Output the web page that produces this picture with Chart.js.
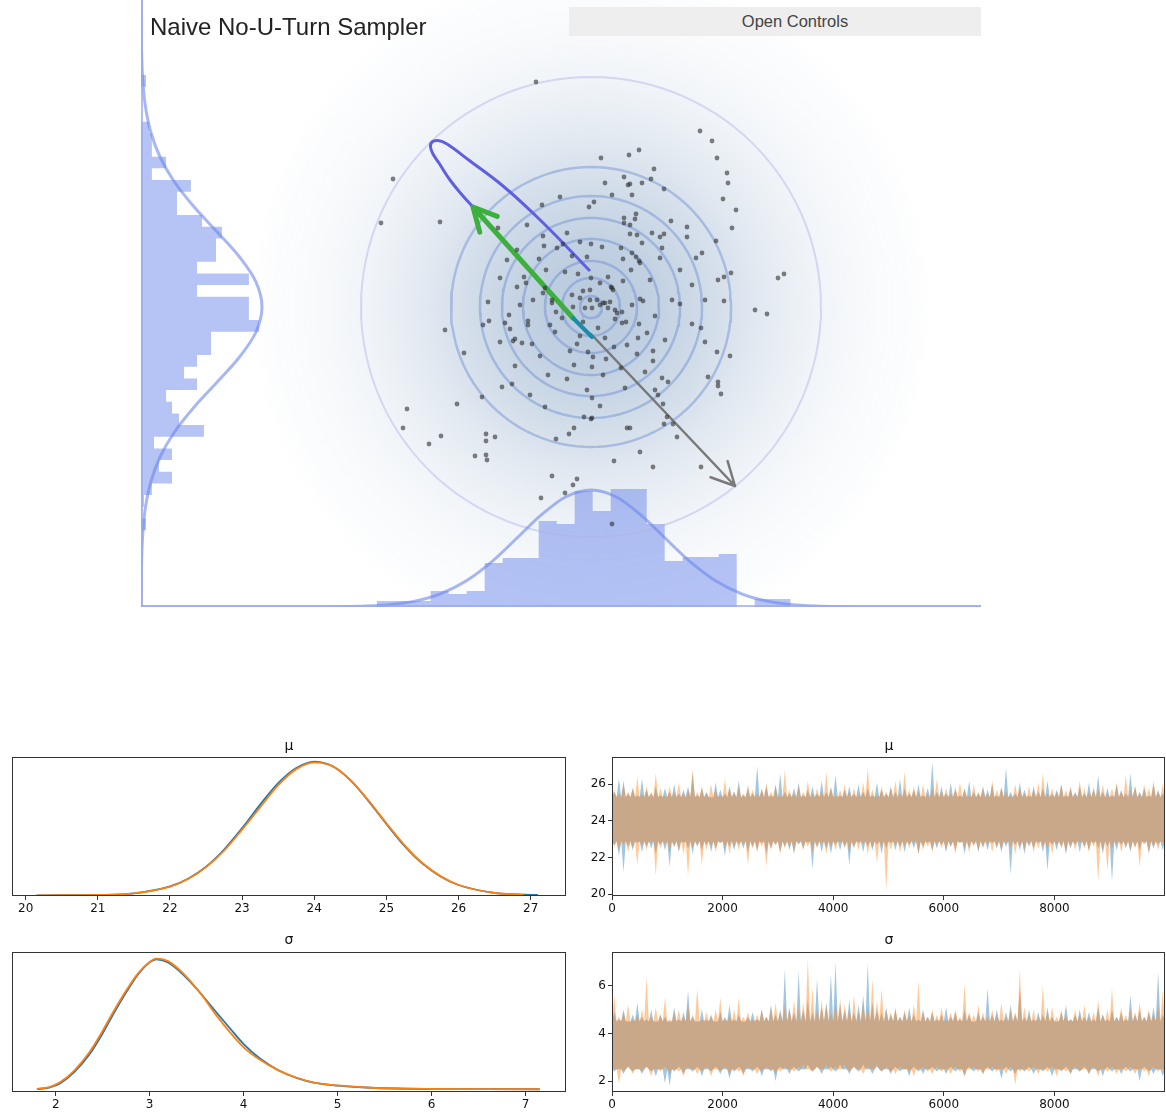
<!DOCTYPE html>
<html>
<head>
<meta charset="utf-8">
<script src="https://cdn.jsdelivr.net/npm/chart.js@4/dist/chart.umd.min.js"></script>
<style>
  html, body { margin: 0; padding: 0; background: #fff; overflow: hidden; width: 1166px; height: 1116px; }
  #stage { position: relative; width: 1166px; height: 1116px; }
  canvas { position: absolute; }
  #title { position: absolute; left: 150px; top: 15px; font-family: "Liberation Sans", Arial, sans-serif; font-size: 24px; line-height: 24px; color: #222; white-space: nowrap; }
  #controls { position: absolute; left: 569px; top: 7px; width: 372px; padding-left: 40px; height: 29px; background: #eeeeee; font-family: "Liberation Sans", Arial, sans-serif; font-size: 16.5px; line-height: 29px; text-align: center; color: #444; }
  .lbl { position: absolute; width: 100px; text-align: center; font-family: "DejaVu Sans", sans-serif; font-size: 14px; line-height: 16px; color: #111; }
</style>
</head>
<body>
<div id="stage">
  <canvas id="nuts" width="840" height="607" style="left:141px;top:0px"></canvas>
  <div id="title">Naive No-U-Turn Sampler</div>
  <div id="controls">Open Controls</div>

  <canvas id="kdeMu" width="580" height="200" style="left:0px;top:730px"></canvas>
  <canvas id="traceMu" width="586" height="200" style="left:580px;top:730px"></canvas>
  <canvas id="kdeSigma" width="580" height="201" style="left:0px;top:925px"></canvas>
  <canvas id="traceSigma" width="586" height="201" style="left:580px;top:925px"></canvas>
  <div class="lbl" style="left:239px;top:737px">μ</div>
  <div class="lbl" style="left:839px;top:737px">μ</div>
  <div class="lbl" style="left:239px;top:931px">σ</div>
  <div class="lbl" style="left:839px;top:931px">σ</div>
</div>

<script>
// ---------- sampler panel data ----------
const samplePoints = [
  [-0.55,2.25],[-1.98,1.28],[-2.10,0.84],[-1.51,0.85],[-0.31,1.10],[-0.49,1.02],[-0.02,1.00],[0.03,1.05],
  [-0.64,0.82],[-0.24,0.74],[-0.48,0.71],[-0.47,0.61],[-0.28,0.63],[-0.34,0.59],[-0.11,0.65],[0.00,0.63],
  [-0.52,0.48],[-0.04,0.50],[-0.45,0.37],[-0.26,0.35],[-0.13,0.33],[-0.67,0.30],[-0.74,0.20],[-0.65,0.24],
  [0.00,0.29],[-0.01,0.17],[-0.08,0.16],[-0.19,0.12],[-1.03,0.05],[-0.48,0.14],[-0.39,0.07],[-0.01,0.07],
  [-0.93,0.79],
  [1.09,1.76],[1.21,1.66],[1.26,1.49],[1.36,1.34],[1.37,1.24],[1.32,1.08],[1.45,0.97],[1.41,0.79],[1.25,0.66],
  [0.10,1.49],[0.38,1.52],[0.48,1.57],[0.63,1.38],[0.33,1.30],[0.37,1.22],[0.39,1.23],[0.14,1.24],[0.51,1.24],
  [0.60,1.28],[0.73,1.18],[0.21,1.12],[0.41,1.12],[0.45,0.93],[0.33,0.89],[0.33,0.84],[0.39,0.82],[0.44,0.88],
  [0.80,0.86],[0.96,0.80],[0.96,0.70],[0.61,0.74],[0.69,0.70],[0.73,0.73],[0.39,0.73],[0.46,0.72],[0.51,0.64],
  [0.30,0.59],[0.71,0.59],[0.41,0.54],[0.45,0.50],[0.48,0.46],[0.49,0.44],[0.32,0.48],[0.69,0.49],[1.05,0.49],
  [1.11,0.54],[0.40,0.37],[0.32,0.26],[0.09,0.24],[0.20,0.20],[0.22,0.17],[0.49,0.08],[0.52,0.06],[0.89,0.03],
  [1.27,0.27],[1.33,0.30],[1.40,0.34],[1.33,0.06],[1.87,0.29],[1.93,0.33],[1.64,-0.03],[1.76,-0.07],[0.06,0.07],
  [0.12,0.04],
  [0.64,-0.09],[1.01,-0.17],[1.10,-0.21],[1.14,-0.35],[1.26,-0.45],[1.39,-0.49],[0.74,-0.33],[0.56,-0.26],
  [0.48,-0.17],[0.47,-0.31],[0.24,-0.12],[0.31,-0.16],[0.35,-0.15],[0.23,-0.40],[0.46,-0.47],[0.62,-0.44],
  [0.62,-0.54],[0.02,-0.50],[0.01,-0.60],[0.12,-0.68],[0.30,-0.61],[0.34,-0.81],[0.09,-0.99],[0.01,-0.91],
  [0.01,-1.11],[0.36,-1.21],[0.39,-1.21],[0.71,-0.71],[0.77,-0.75],[0.64,-0.83],[0.67,-0.88],[0.72,-0.97],
  [0.76,-1.10],[0.73,-1.17],[0.82,-1.17],[0.86,-1.30],[1.17,-0.70],[1.27,-0.75],[1.27,-0.79],[1.30,-0.87],
  [0.49,-1.45],[0.23,-1.54],[0.62,-1.60],[1.10,-1.60],[0.21,-2.17],[-0.18,-1.78],[-0.14,-1.72],[0.09,0.02],
  [0.14,0.04],[0.17,-0.01],[0.26,-0.06],[0.31,-0.05],[0.41,0.02],
  [-1.46,-0.23],[-1.27,-0.46],[-0.82,-0.08],[-0.86,-0.16],[-1.02,-0.14],[-1.08,-0.18],[-0.91,-0.35],[-0.78,-0.34],
  [-0.76,-0.32],[-0.69,-0.36],[-0.59,-0.37],[-0.63,-0.14],[-0.63,-0.18],[-0.81,-0.22],[-0.41,-0.18],[-0.76,-0.59],
  [-0.79,-0.77],[-0.89,-0.80],[-1.09,-0.90],[-1.34,-0.97],[-1.84,-1.02],[-1.88,-1.21],[-1.50,-1.29],[-1.62,-1.37],
  [-1.05,-1.27],[-0.96,-1.30],[-1.05,-1.34],[-1.16,-1.49],[-1.05,-1.48],[-1.04,-1.53],[-0.46,-1.00],[-0.35,-1.32],
  [-0.22,-1.27],[-0.17,-1.21],[-0.07,-1.10],[0.00,-1.12],[-0.04,-0.83],[-0.24,-0.72],[-0.17,-0.58],[-0.21,-0.44],
  [-0.03,-0.45],[-0.14,-0.37],[-0.39,-1.69],[-0.26,-1.86],[-0.50,-1.91],[-0.39,0.04],[-0.35,-0.05],[-0.06,-0.01],
  [0.01,-0.01],
  [0.19,0.05],[-0.11,0.09],[-0.18,0.00],[0.24,-0.03],[0.17,0.30],[0.21,0.19],[0.11,0.60],[-0.19,0.51],
  [-0.08,-0.15],[-0.29,-0.11],[0.07,-0.21],[-0.11,-0.29],[-0.36,-0.25],[-0.51,-0.49],[-0.43,-0.68],[-0.61,-0.88],
  [0.14,-0.31],[0.15,-0.52],[0.54,-0.65],[0.36,-0.38],[-0.46,0.19],[-0.58,0.07],[-0.71,0.02],[-0.84,0.47],
  [-0.91,0.29],[-0.74,0.57],[0.89,0.37],[1.01,0.22],[0.81,0.07],[1.14,0.07],[0.59,0.27]
];

// density contour radii of the target distribution
const contourRadii = [0.11, 0.29, 0.46, 0.68, 0.89, 1.11, 1.40, 2.30];

// leapfrog trajectory (blue loop)
const trajectoryX = [-0.01, -0.28, -0.55, -0.88, -1.21, -1.44, -1.53, -1.59, -1.605, -1.58, -1.52, -1.41, -1.28, -1.18];
const trajectoryY = [0.36, 0.64, 0.91, 1.21, 1.46, 1.63, 1.665, 1.65, 1.60, 1.53, 1.44, 1.27, 1.11, 1.00];

// arrows: [start, end]
const momentumArrow = [[-0.18, -0.11], [-1.18, 1.00]];
const gradientArrow = [[0.00, -0.27], [1.44, -1.79]];
const positionSegment = [[-0.18, -0.11], [0.01, -0.30]];

// x marginal histogram (density)
const xHistStart = -2.143;
const xHistBin = 0.18;
const xHistDensity = [0.028, 0.028, 0.028, 0.076, 0.062, 0.076, 0.208, 0.232, 0.232, 0.407, 0.393, 0.549,
                      0.455, 0.559, 0.559, 0.393, 0.218, 0.237, 0.237, 0.251, 0, 0.038, 0.038];

// y marginal histogram (density), from top bin downward
const yHistTop = 2.32;
const yHistBin = 0.1167;
const yHistDensity = [0.021, 0, 0, 0, 0.034, 0.046, 0.046, 0.106, 0.046, 0.211, 0.152, 0.152, 0.258, 0.342,
                      0.317, 0.317, 0.237, 0.456, 0.237, 0.456, 0.456, 0.499, 0.296, 0.296, 0.237, 0.182,
                      0.237, 0.106, 0.131, 0.161, 0.266, 0.055, 0.131, 0.076, 0.131, 0.046, 0.013, 0.004,
                      0.021, 0];

// marginal normal densities
const xCurveX = [-4.5, -3.5, -3.0, -2.75, -2.5, -2.25, -2.0, -1.75, -1.5, -1.25, -1.0, -0.75, -0.5, -0.25, 0,
                 0.25, 0.5, 0.75, 1.0, 1.25, 1.5, 1.75, 2.0, 2.25, 2.5, 2.75, 3.0, 3.5, 3.9];
const xCurveD = [0, 0, 0.0001, 0.0004, 0.0013, 0.0042, 0.0117, 0.0289, 0.0633, 0.1227, 0.211, 0.322, 0.435, 0.522,
                 0.554, 0.522, 0.435, 0.322, 0.211, 0.1227, 0.0633, 0.0289, 0.0117, 0.0042, 0.0013, 0.0004, 0.0001, 0, 0];
const yCurveY = [3.07, 2.75, 2.5, 2.25, 2.0, 1.75, 1.5, 1.25, 1.0, 0.75, 0.5, 0.25, 0, -0.25, -0.5, -0.75, -1.0,
                 -1.25, -1.5, -1.75, -2.0, -2.25, -2.5, -2.75, -3.0];
const yCurveD = [0.0002, 0.001, 0.003, 0.008, 0.0191, 0.0413, 0.0805, 0.1416, 0.2249, 0.3221, 0.4165, 0.486,
                 0.5115, 0.486, 0.4165, 0.3221, 0.2249, 0.1416, 0.0805, 0.0413, 0.0191, 0.008, 0.003, 0.001, 0.0003];

// ---------- posterior panel data ----------
const muGrid = [20.15, 20.5, 21.0, 21.5, 22.0, 22.25, 22.5, 22.75, 23.0, 23.25, 23.5, 23.75, 24.0, 24.25, 24.5,
                24.75, 25.0, 25.25, 25.5, 25.75, 26.0, 26.5, 26.9, 27.1];
const muKdeChain0 = [0.0001, 0.0002, 0.0012, 0.0068, 0.0305, 0.0570, 0.0985, 0.1575, 0.2310, 0.3120, 0.3860, 0.4380,
                     0.4600, 0.4445, 0.3960, 0.3250, 0.2455, 0.1700, 0.1090, 0.0650, 0.0355, 0.0085, 0.0022, 0.0012];
const muKdeChain1 = [0.0001, 0.0002, 0.0011, 0.0066, 0.0298, 0.0560, 0.0970, 0.1540, 0.2260, 0.3030, 0.3790, 0.4340,
                     0.4575, 0.4445, 0.3970, 0.3270, 0.2480, 0.1730, 0.1110, 0.0660, 0.0355, 0.0080, 0.0018];

const sigmaGrid = [1.8, 1.93, 2.05, 2.2, 2.36, 2.48, 2.6, 2.76, 2.87, 3.0, 3.07, 3.19, 3.31, 3.43, 3.56, 3.7, 3.86,
                   4.0, 4.17, 4.37, 4.57, 4.76, 5.0, 5.35, 6.0, 6.6, 7.15];
const sigmaKdeChain0 = [0.001, 0.010, 0.035, 0.098, 0.198, 0.298, 0.412, 0.555, 0.643, 0.716, 0.733, 0.717, 0.670,
                        0.607, 0.530, 0.440, 0.340, 0.255, 0.175, 0.108, 0.063, 0.036, 0.021, 0.009, 0.002, 0.001, 0.0005];
const sigmaKdeChain1 = [0.002, 0.013, 0.041, 0.107, 0.210, 0.312, 0.425, 0.565, 0.649, 0.718, 0.737, 0.724, 0.677,
                        0.612, 0.528, 0.424, 0.318, 0.237, 0.168, 0.107, 0.064, 0.037, 0.022, 0.009, 0.002, 0.001, 0.0005];

// dense core of each trace band [low, high]
const muCore = [22.9, 25.3];
const sigmaCore = [2.5, 4.5];

// trace extremes per block of draws (120 blocks over 10000 draws)
const muHi0 = [25.6,26.3,26.2,25.5,25.8,25.4,26.3,25.7,25.5,25.9, 25.4,25.8,25.6,26.0,25.5,25.7,25.9,26.6,25.4,25.8,
  25.6,25.3,26.1,25.7,25.5,25.9,25.6,26.2,25.4,25.8, 25.5,27.0,25.7,25.9,25.4,26.0,26.6,25.6,25.5,25.8,
  26.1,25.4,25.7,25.9,25.5,26.2,25.6,25.8,26.5,25.4, 25.7,25.9,25.5,26.0,25.6,25.8,25.4,26.1,25.7,25.5,
  25.9,25.6,26.3,25.8,25.5,25.7,26.0,25.4,25.8,27.2, 25.6,25.9,25.5,26.1,25.7,25.4,25.8,26.2,25.6,25.5,
  25.9,25.7,26.0,25.4,25.8,26.9,25.6,25.5,26.1,25.7, 25.4,25.9,25.6,25.8,26.2,25.5,25.7,26.0,25.4,25.8,
  25.6,25.9,25.5,26.1,25.7,26.5,25.6,25.8,25.4,26.0, 25.7,25.5,26.6,25.9,25.6,25.8,25.4,26.0,25.7,25.5];
const muLo0 = [22.7,22.1,21.2,22.6,22.4,22.8,22.3,22.6,22.5,22.2, 22.7,22.4,21.5,22.6,22.3,22.8,22.5,22.2,22.6,22.4,
  22.7,22.3,22.5,22.8,22.1,22.6,22.4,22.7,22.5,22.3, 22.6,22.4,22.8,22.2,22.5,22.7,22.3,22.6,22.4,22.2,
  22.7,22.5,22.8,21.4,22.6,22.3,22.5,22.2,22.7,22.4, 22.6,21.6,22.5,22.8,22.3,22.6,22.4,22.7,22.2,22.5,
  22.8,22.4,22.6,22.3,22.7,22.5,22.2,22.6,22.8,22.4, 22.5,22.7,22.3,22.6,22.4,22.8,22.2,22.5,22.7,22.3,
  22.6,22.4,22.8,22.5,22.3,22.6,21.1,22.7,22.4,22.2, 22.6,22.5,22.8,22.3,21.3,22.7,22.4,22.6,22.2,22.5,
  22.7,22.3,22.6,22.4,22.8,22.5,22.2,22.6,20.7,22.4, 22.7,22.5,22.3,22.6,22.4,22.8,22.2,22.5,22.7,22.4];
const muHi1 = [25.7,25.5,26.0,25.6,25.8,26.4,25.5,25.9,25.6,26.6, 25.8,25.4,25.9,25.6,26.1,25.5,25.7,26.85,25.6,25.9,
  25.5,26.0,25.7,25.4,26.3,25.8,25.6,25.9,25.5,26.0, 25.7,25.5,25.8,26.1,25.6,25.9,25.4,26.8,25.7,25.5,
  25.9,25.6,26.2,25.5,25.8,25.6,26.7,25.9,25.4,25.7, 26.0,25.6,25.8,25.5,26.1,26.9,25.7,25.4,25.9,25.6,
  25.8,26.2,25.5,26.7,25.7,25.9,25.6,26.0,25.5,25.8, 26.3,25.6,25.8,25.5,25.9,26.1,25.7,25.4,26.0,25.6,
  25.8,25.5,26.2,25.7,25.9,25.6,25.4,26.0,25.8,25.5, 25.9,25.7,26.1,26.6,25.5,25.8,25.6,26.0,25.7,25.9,
  25.5,26.2,25.8,25.6,25.9,25.7,26.0,25.5,25.8,26.1, 25.6,26.5,25.7,25.9,25.5,26.0,25.8,26.2,25.6,26.0];
const muLo1 = [22.6,22.4,22.7,22.3,22.5,21.6,22.6,22.4,22.8,21.0, 22.5,22.7,22.3,22.6,22.4,22.2,21.0,22.5,22.7,21.6,
  22.4,22.6,22.3,22.8,22.5,22.2,22.6,22.4,22.7,21.6, 22.5,22.3,22.6,21.5,22.4,22.7,22.2,22.5,22.6,22.3,
  22.8,22.4,22.6,22.3,22.5,22.7,22.2,22.6,22.4,22.8, 22.5,22.3,22.6,22.4,22.7,22.2,22.5,21.7,22.6,20.2,
  22.4,22.7,22.3,22.6,22.5,22.8,22.2,22.4,22.6,22.3, 22.7,22.5,22.4,22.6,22.2,22.8,22.5,22.3,22.6,22.4,
  22.5,22.7,22.3,22.6,22.4,22.8,22.5,22.2,22.6,22.4, 22.7,22.3,22.5,22.6,22.4,22.2,22.7,22.5,22.3,22.6,
  22.4,22.8,22.5,22.3,22.6,20.7,22.4,21.3,22.5,22.7, 22.3,22.6,22.4,22.5,21.5,22.7,22.3,22.6,22.4,22.8];

const sigmaHi0 = [4.9,4.6,5.0,4.5,4.8,5.3,4.7,4.6,5.0,4.5, 4.8,4.7,4.5,5.1,4.6,4.9,5.8,4.7,4.5,5.0,
  4.6,4.8,4.5,4.9,4.7,5.2,4.6,4.8,4.5,4.7, 4.9,4.6,5.0,4.7,5.2,4.8,5.0,6.7,5.1,4.9,
  6.6,5.0,5.4,4.9,6.3,5.1,5.3,6.5,7.0,5.2, 5.0,5.4,4.9,5.2,5.6,6.95,5.3,5.0,4.9,5.1,
  4.8,5.0,4.7,4.9,5.1,4.8,4.6,5.0,4.7,4.9, 4.6,4.8,5.1,4.7,4.9,4.6,5.0,4.8,4.5,4.9,
  4.7,5.9,4.8,5.0,4.6,4.9,5.2,4.8,5.9,4.7, 5.0,4.6,4.9,4.8,5.1,4.7,4.5,4.9,5.2,4.6,
  4.8,5.0,4.7,4.9,4.6,5.1,4.8,4.6,5.0,4.7, 4.9,4.6,5.6,4.8,5.0,4.7,4.9,5.1,6.6,4.8];
const sigmaLo0 = [2.4,2.5,2.3,2.6,2.4,2.5,2.3,2.6,2.4,2.2, 2.5,1.9,1.8,2.4,2.6,2.3,2.5,2.4,2.6,2.2,
  2.5,2.4,2.6,2.3,2.5,2.1,2.4,2.6,2.3,2.5, 2.4,2.6,2.2,2.5,2.4,2.0,2.6,2.5,2.3,2.6,
  2.4,2.5,2.7,2.4,2.6,2.3,2.5,2.6,2.4,2.7, 2.5,2.3,2.6,2.4,2.7,2.5,2.3,2.6,2.4,2.5,
  2.3,2.6,2.4,2.5,2.2,2.6,2.4,2.3,2.5,2.6, 2.4,2.5,2.3,2.6,2.4,2.5,2.2,2.6,2.4,2.5,
  2.3,2.6,2.4,2.5,2.1,2.6,2.4,2.3,2.5,2.4, 2.6,2.3,2.5,2.4,2.6,2.2,2.5,2.4,2.6,2.3,
  2.5,2.4,2.6,2.3,2.5,2.4,2.2,2.6,2.4,2.5, 2.3,2.6,2.4,2.5,2.0,2.6,2.4,2.3,2.5,2.2];
const sigmaHi1 = [5.6,4.7,4.9,5.2,4.6,4.8,5.0,6.4,4.7,5.1, 4.8,5.5,4.6,4.9,5.0,4.7,5.2,4.8,5.9,4.6,
  4.9,4.7,5.0,5.5,4.6,4.8,5.0,5.5,4.7,4.9, 4.6,4.8,5.0,4.7,5.1,5.3,4.9,5.2,5.0,5.4,
  5.1,5.3,7.15,5.9,5.0,5.4,5.2,4.9,5.3,5.5, 5.2,5.0,5.6,4.9,5.3,5.1,6.3,5.4,5.9,5.0,
  4.9,5.1,4.7,5.0,4.8,5.2,6.2,4.9,4.7,5.0, 4.8,5.1,4.6,4.9,5.0,4.7,6.1,4.9,4.8,5.2,
  4.9,4.7,5.0,4.8,5.3,4.7,5.0,4.9,6.7,5.1, 4.8,5.0,4.7,6.0,4.9,5.1,4.7,5.0,4.8,4.6,
  5.0,4.8,5.2,4.7,4.9,5.4,4.8,5.0,5.9,4.7, 5.1,4.8,5.0,4.9,5.3,4.7,5.0,4.8,5.2,5.8];
const sigmaLo1 = [2.5,1.9,2.4,2.6,2.3,2.5,2.4,2.6,2.2,2.5, 2.4,2.6,2.3,2.5,2.4,2.2,2.6,2.5,2.3,2.4,
  2.6,2.2,2.5,2.4,2.6,2.3,2.5,2.4,2.2,2.6, 2.5,2.3,2.4,2.6,2.5,2.3,2.4,2.6,2.5,2.4,
  2.6,2.7,2.5,2.4,2.6,2.5,2.7,2.4,2.6,2.5, 2.7,2.4,2.6,2.5,2.3,2.6,2.5,2.7,2.4,2.6,
  2.4,2.3,2.6,2.5,2.4,2.2,2.5,2.6,2.4,2.3, 2.6,2.4,2.5,2.3,2.6,2.4,2.2,2.5,2.6,2.4,
  2.3,2.5,2.6,2.4,2.5,2.3,2.6,1.85,2.4,2.5, 2.4,2.6,2.3,2.5,2.4,2.6,2.2,2.5,2.4,2.3,
  2.6,2.4,2.5,2.3,2.6,2.2,2.5,2.4,2.6,2.3, 2.5,2.4,2.6,2.3,2.5,2.4,2.2,2.6,2.4,2.5];

const DRAWS = 10000;

// ---------- helpers ----------
const pts = (xs, ys) => xs.map((x, i) => ({x, y: ys[i]}));

function ring(r) {
  const out = [];
  for (let k = 0; k <= 120; k++) {
    const a = (k / 120) * Math.PI * 2;
    out.push({x: r * Math.cos(a), y: r * Math.sin(a)});
  }
  return out;
}

function arrowPath([from, to], headLen, spread) {
  const dx = to[0] - from[0], dy = to[1] - from[1];
  const L = Math.hypot(dx, dy), ux = dx / L, uy = dy / L;
  const wing = s => ({
    x: to[0] - headLen * (ux * Math.cos(s) - uy * Math.sin(s)),
    y: to[1] - headLen * (uy * Math.cos(s) + ux * Math.sin(s))
  });
  const tip = {x: to[0], y: to[1]};
  return [{x: from[0], y: from[1]}, tip, wing(spread), tip, wing(-spread)];
}

function xHistogramOutline() {
  const out = [{x: xHistStart, y: 0}];
  xHistDensity.forEach((d, i) => {
    const x0 = xHistStart + i * xHistBin;
    out.push({x: x0, y: d}, {x: x0 + xHistBin, y: d});
  });
  out.push({x: xHistStart + xHistDensity.length * xHistBin, y: 0});
  return out;
}

function yHistogramOutline() {
  const out = [{x: 0, y: yHistTop}];
  yHistDensity.forEach((d, i) => {
    const y0 = yHistTop - i * yHistBin;
    out.push({x: d, y: y0}, {x: d, y: y0 - yHistBin});
  });
  out.push({x: 0, y: yHistTop - yHistDensity.length * yHistBin});
  return out;
}

// band edge: each block's extreme rises from the dense core level
function envelope(ext, core) {
  const step = DRAWS / ext.length;
  const out = [{x: 0, y: core}];
  ext.forEach((v, i) => {
    out.push({x: (i + 0.5) * step, y: v}, {x: (i + 1) * step, y: core});
  });
  return out;
}

Chart.defaults.animation = false;
Chart.defaults.responsive = false;
Chart.defaults.devicePixelRatio = 1;
Chart.defaults.font.family = '"DejaVu Sans", sans-serif';
Chart.defaults.plugins.legend.display = false;
Chart.defaults.plugins.tooltip.enabled = false;

// soft radial density shading behind the sampler panel
const haloPlugin = {
  id: 'halo',
  beforeDatasetsDraw(chart) {
    const {ctx, chartArea: a, scales} = chart;
    const cx = scales.x.getPixelForValue(0), cy = scales.y.getPixelForValue(0);
    const R = scales.x.getPixelForValue(3.4) - cx;
    const g = ctx.createRadialGradient(cx, cy, 0, cx, cy, R);
    for (let i = 0; i <= 20; i++) {
      const t = i / 20;
      const alpha = i === 20 ? 0 : 0.6 * Math.exp(-(t * t) / (2 * 0.38 * 0.38));
      g.addColorStop(t, `rgba(140,168,200,${alpha.toFixed(3)})`);
    }
    ctx.save();
    ctx.fillStyle = g;
    ctx.fillRect(a.left, a.top, a.right - a.left, a.bottom - a.top);
    ctx.restore();
  }
};

const lineDefaults = {type: 'line', pointRadius: 0, fill: false, tension: 0};
const HIST_FILL = 'rgba(100,130,235,0.48)';
const CURVE = 'rgba(110,135,235,0.6)';

const nutsDatasets = [
  {type: 'scatter', data: samplePoints.map(([x, y]) => ({x, y})), pointRadius: 2.4,
   pointBackgroundColor: 'rgba(45,45,45,0.6)', pointBorderWidth: 0, order: 0},
  {...lineDefaults, data: pts(positionSegment.map(p => p[0]), positionSegment.map(p => p[1])),
   borderColor: 'rgb(25,140,170)', borderWidth: 4, borderCapStyle: 'round', order: 1},
  {...lineDefaults, data: arrowPath(momentumArrow, 0.26, 0.47), borderColor: 'rgb(60,175,60)',
   borderWidth: 5, borderJoinStyle: 'round', borderCapStyle: 'round', order: 1},
  {...lineDefaults, data: arrowPath(gradientArrow, 0.26, 0.47), borderColor: 'rgba(115,115,115,0.95)',
   borderWidth: 2.5, borderJoinStyle: 'round', borderCapStyle: 'round', order: 1},
  {...lineDefaults, data: pts(trajectoryX, trajectoryY), borderColor: 'rgb(95,95,225)', borderWidth: 3,
   tension: 0.4, order: 2},
  // panel axes
  {...lineDefaults, data: [{x: -4.49, y: -3.0}, {x: -4.49, y: 3.07}], borderColor: 'rgba(150,170,235,0.75)',
   borderWidth: 2, order: 3},
  {...lineDefaults, data: [{x: -4.49, y: -2.99}, {x: 3.9, y: -2.99}], borderColor: 'rgba(150,170,235,0.75)',
   borderWidth: 2, order: 3},
  // marginal densities
  {...lineDefaults, data: pts(xCurveX, xCurveD), yAxisID: 'yd', borderColor: CURVE, borderWidth: 3,
   cubicInterpolationMode: 'monotone', order: 4},
  {...lineDefaults, data: yCurveD.map((d, i) => ({x: d, y: yCurveY[i]})), xAxisID: 'xd', borderColor: CURVE,
   borderWidth: 3, tension: 0.35, order: 4},
  // marginal histograms
  {...lineDefaults, data: xHistogramOutline(), yAxisID: 'yd', borderWidth: 0, backgroundColor: HIST_FILL,
   fill: 'origin', order: 6},
  {...lineDefaults, data: yHistogramOutline(), xAxisID: 'xd', borderWidth: 0, backgroundColor: HIST_FILL,
   fill: 'shape', order: 6}
];
contourRadii.forEach((r, i) => {
  const outer = i === contourRadii.length - 1;
  nutsDatasets.push({...lineDefaults, data: ring(r),
    borderColor: outer ? 'rgba(175,180,230,0.45)' : 'rgba(95,130,205,0.4)',
    borderWidth: outer ? 2 : 2.5, order: 5});
});

new Chart(document.getElementById('nuts'), {
  type: 'scatter',
  data: {datasets: nutsDatasets},
  options: {
    layout: {padding: 0, autoPadding: false},
    scales: {
      x: {type: 'linear', min: -4.5, max: 3.9, display: false},
      y: {type: 'linear', min: -3.0, max: 3.07, display: false},
      xd: {type: 'linear', axis: 'x', min: 0, max: 3.551, display: false},
      yd: {type: 'linear', axis: 'y', min: 0, max: 2.874, display: false}
    }
  },
  plugins: [haloPlugin]
});

// ---------- posterior panels ----------
const framePlugin = {
  id: 'frame',
  afterDraw(chart) {
    const {ctx, chartArea: a} = chart;
    ctx.save();
    ctx.strokeStyle = '#333';
    ctx.lineWidth = 1;
    ctx.strokeRect(Math.round(a.left) + 0.5, Math.round(a.top) + 0.5,
                   Math.round(a.right - a.left) - 1, Math.round(a.bottom - a.top) - 1);
    ctx.restore();
  }
};

const tickFont = {family: '"DejaVu Sans", sans-serif', size: 12};
function xAxis(min, max, step) {
  return {
    type: 'linear', min, max,
    ticks: {stepSize: step, includeBounds: false, autoSkip: false, maxRotation: 0, font: tickFont, color: '#111',
            padding: 2, callback: v => String(v)},
    grid: {drawOnChartArea: false, color: '#333', tickLength: 4},
    border: {display: false},
    afterBuildTicks: s => { s.ticks = s.ticks.filter(t => t.value < max); },
    afterFit: s => { s.height = 34; }
  };
}
function yAxis(min, max, step) {
  return {
    type: 'linear', min, max,
    ticks: {stepSize: step, includeBounds: false, font: tickFont, color: '#111', padding: 2, callback: v => String(v)},
    grid: {drawOnChartArea: false, color: '#333', tickLength: 4},
    border: {display: false},
    afterFit: s => { s.width = 32; }
  };
}

function kdeChart(id, grid, c0, c1, xr, yr) {
  new Chart(document.getElementById(id), {
    type: 'line',
    data: {datasets: [
      {data: pts(grid.slice(0, c1.length), c1), borderColor: '#ff7f0e', borderWidth: 1.8, pointRadius: 0,
       cubicInterpolationMode: 'monotone'},
      {data: pts(grid, c0), borderColor: '#1f77b4', borderWidth: 1.8, pointRadius: 0,
       cubicInterpolationMode: 'monotone'}
    ]},
    options: {
      layout: {padding: {left: 12, right: 14, top: 27, bottom: 0}, autoPadding: false},
      scales: {x: xAxis(xr[0], xr[1], 1), y: {display: false, min: yr[0], max: yr[1]}}
    },
    plugins: [framePlugin]
  });
}

function traceChart(id, hi0, lo0, hi1, lo1, core, yr) {
  const band = {pointRadius: 0, borderWidth: 0, tension: 0};
  new Chart(document.getElementById(id), {
    type: 'line',
    data: {datasets: [
      {...band, data: envelope(hi1, core[1]), fill: '+1', backgroundColor: 'rgba(255,127,14,0.42)'},
      {...band, data: envelope(lo1, core[0]), fill: false},
      {...band, data: envelope(hi0, core[1]), fill: '+1', backgroundColor: 'rgba(31,119,180,0.42)'},
      {...band, data: envelope(lo0, core[0]), fill: false}
    ]},
    options: {
      layout: {padding: {left: 0, right: 1, top: 27, bottom: 0}, autoPadding: false},
      scales: {x: xAxis(0, DRAWS, 2000), y: yAxis(yr[0], yr[1], 2)}
    },
    plugins: [framePlugin]
  });
}

kdeChart('kdeMu', muGrid, muKdeChain0, muKdeChain1, [19.81, 27.49], [-0.0023, 0.4757]);
kdeChart('kdeSigma', sigmaGrid, sigmaKdeChain0, sigmaKdeChain1, [1.535, 7.43], [-0.015, 0.774]);
traceChart('traceMu', muHi0, muLo0, muHi1, muLo1, muCore, [19.91, 27.49]);
traceChart('traceSigma', sigmaHi0, sigmaLo0, sigmaHi1, sigmaLo1, sigmaCore, [1.54, 7.42]);
</script>
</body>
</html>
